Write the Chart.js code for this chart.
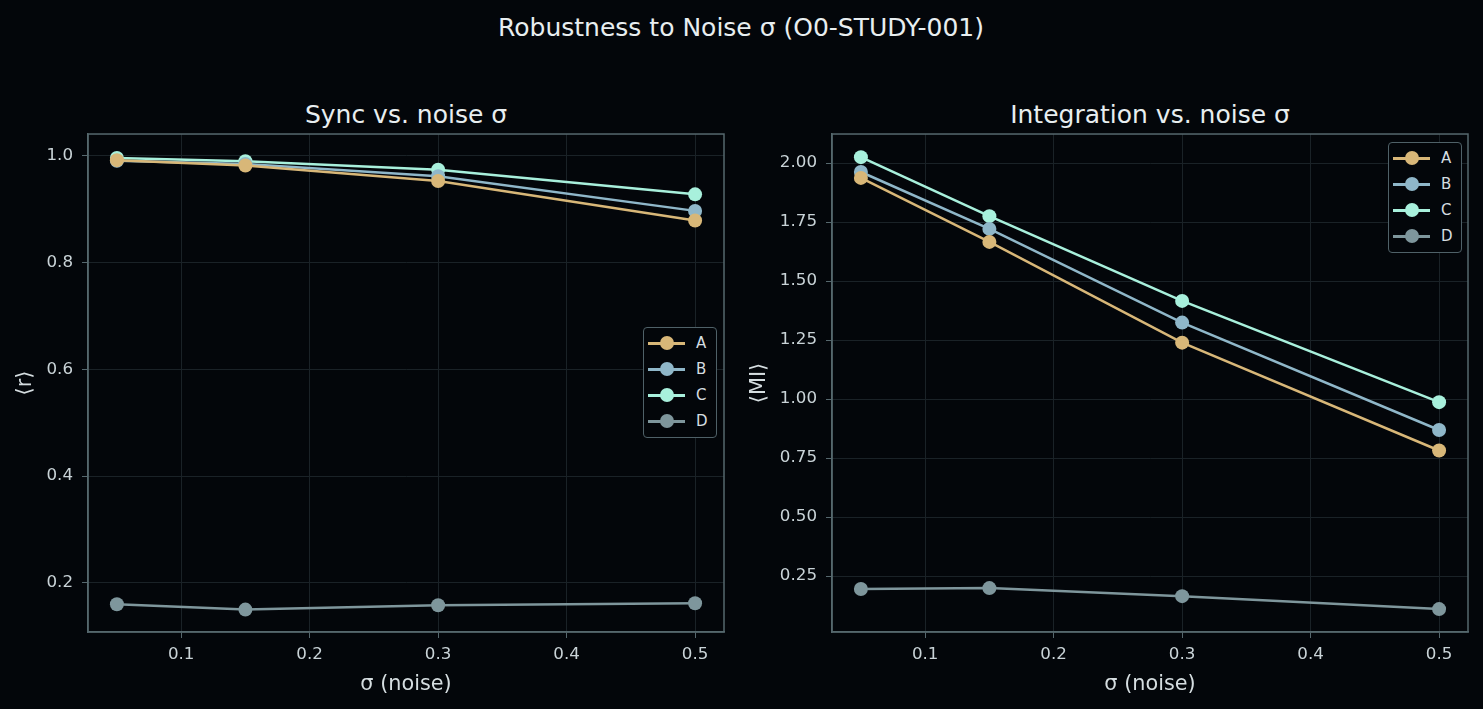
<!DOCTYPE html>
<html>
<head>
<meta charset="utf-8">
<script src="https://cdn.jsdelivr.net/npm/chart.js@4/dist/chart.umd.min.js"></script>
<style>
  html, body { margin: 0; padding: 0; background: #03060a; }
  body { width: 1483px; height: 709px; position: relative; overflow: hidden; font-family: "DejaVu Sans", sans-serif; }
  .box { position: absolute; }
  .title { position: absolute; color: #e8eef0; white-space: nowrap; transform: translate(-50%, -50%); }
  .legend { position: absolute; border: 1.5px solid #4f6168; border-radius: 4px; background: #03060a; padding: 2px 8px 3px 4px; }
  .legend .row { display: flex; align-items: center; height: 26px; color: #d5dde0; font-size: 15px; }
  .legend .mark { position: relative; width: 37px; height: 14px; margin-right: 11px; }
  .legend .mark .ln { position: absolute; left: 0; right: 0; top: 6px; height: 2.5px; }
  .legend .mark .dot { position: absolute; left: 11.5px; top: 0; width: 14px; height: 14px; border-radius: 50%; }
</style>
</head>
<body>
<div class="title" style="left:741px; top:27px; font-size:25px;">Robustness to Noise σ (O0-STUDY-001)</div>
<div class="title" style="left:406px; top:114px; font-size:25px;">Sync vs. noise σ</div>
<div class="title" style="left:1150px; top:114px; font-size:25px;">Integration vs. noise σ</div>

<div class="box" style="left:0; top:115px; width:740px; height:594px;"><canvas id="syncChart"></canvas></div>
<div class="box" style="left:745px; top:115px; width:738px; height:594px;"><canvas id="miChart"></canvas></div>

<div class="legend" id="syncLegend" style="left:643px; top:327px;"></div>
<div class="legend" id="miLegend" style="left:1388px; top:142px;"></div>

<script>
const sigmas = [0.05, 0.15, 0.3, 0.5];
const seriesNames = ["A", "B", "C", "D"];
const seriesColors = ["#d8b778", "#8fb7c9", "#a8f0dc", "#7e969c"];

// mean order parameter <r>
const syncA = [0.992, 0.982, 0.953, 0.879];
const syncB = [0.991, 0.985, 0.962, 0.897];
const syncC = [0.996, 0.990, 0.974, 0.928];
const syncD = [0.160, 0.150, 0.158, 0.162];

// mean mutual information <MI>
const miA = [1.937, 1.666, 1.239, 0.782];
const miB = [1.962, 1.721, 1.324, 0.869];
const miC = [2.025, 1.775, 1.416, 0.987];
const miD = [0.195, 0.199, 0.165, 0.110];

const xTicks = [0.1, 0.2, 0.3, 0.4, 0.5];
const syncTicks = [0.2, 0.4, 0.6, 0.8, 1.0];
const miTicks = [0.25, 0.5, 0.75, 1.0, 1.25, 1.5, 1.75, 2.0];

const gridColor = "#1a2227";
const spineColor = "#56686e";
const tickText = "#c9d3d7";

// draw the full frame around the plot area
const framePlugin = {
    id: "frame",
    afterDraw(chart) {
        const a = chart.chartArea;
        const c = chart.ctx;
        c.save();
        c.strokeStyle = spineColor;
        c.lineWidth = 1.5;
        c.strokeRect(a.left, a.top, a.right - a.left, a.bottom - a.top);
        c.restore();
    }
};

function makeDatasets(lists) {
    return lists.map((vals, i) => ({
        label: seriesNames[i],
        data: sigmas.map((s, j) => ({ x: s, y: vals[j] })),
        borderColor: seriesColors[i],
        backgroundColor: seriesColors[i],
        pointBackgroundColor: seriesColors[i],
        pointBorderWidth: 0,
        pointRadius: 7,
        borderWidth: 2.5,
        tension: 0,
    }));
}

function makeChart(id, lists, yMin, yMax, yTicks, decimals, yTitle, yWidth, yTitlePad, padRight) {
    const ctx = document.getElementById(id).getContext("2d");
    return new Chart(ctx, {
        type: "line",
        data: { datasets: makeDatasets(lists) },
        options: {
            responsive: true,
            maintainAspectRatio: false,
            animation: false,
            layout: { padding: { top: 13, right: padRight, bottom: 0, left: 0 } },
            plugins: { legend: { display: false }, tooltip: { enabled: false } },
            scales: {
                x: {
                    type: "linear",
                    min: 0.0275,
                    max: 0.5225,
                    afterBuildTicks: (s) => { s.ticks = xTicks.map(v => ({ value: v })); },
                    afterFit: (s) => { s.height = 77; },
                    grid: { color: gridColor, tickColor: spineColor, tickLength: 6, lineWidth: 1 },
                    border: { color: spineColor, width: 1.5 },
                    ticks: {
                        color: tickText, font: { family: "DejaVu Sans", size: 16.7 }, padding: 7,
                        maxRotation: 0,
                        callback: (v) => Number(v).toFixed(1)
                    },
                    title: {
                        display: true, text: "σ (noise)", color: "#d5dde0",
                        font: { family: "DejaVu Sans", size: 20.8 }, padding: { top: 0, bottom: 12 }
                    }
                },
                y: {
                    type: "linear",
                    min: yMin,
                    max: yMax,
                    afterBuildTicks: (s) => { s.ticks = yTicks.map(v => ({ value: v })); },
                    afterFit: (s) => { s.width = yWidth; },
                    grid: { color: gridColor, tickColor: spineColor, tickLength: 6, lineWidth: 1 },
                    border: { color: spineColor, width: 1.5 },
                    ticks: {
                        color: tickText, font: { family: "DejaVu Sans", size: 16.7 }, padding: 9,
                        callback: (v) => Number(v).toFixed(decimals)
                    },
                    title: {
                        display: true, text: yTitle, color: "#d5dde0",
                        font: { family: "DejaVu Sans", size: 20.8 }, padding: { top: yTitlePad, bottom: 0 }
                    }
                }
            }
        },
        plugins: [framePlugin]
    });
}

function buildLegend(id) {
    const el = document.getElementById(id);
    seriesNames.forEach((name, i) => {
        const row = document.createElement("div");
        row.className = "row";
        row.innerHTML = `<span class="mark"><span class="ln" style="background:${seriesColors[i]}"></span>` +
            `<span class="dot" style="background:${seriesColors[i]}"></span></span><span>${name}</span>`;
        el.appendChild(row);
    });
}

makeChart("syncChart", [syncA, syncB, syncC, syncD], 0.108, 1.041, syncTicks, 1, "⟨r⟩", 88, 13, 16);
makeChart("miChart", [miA, miB, miC, miD], 0.013, 2.123, miTicks, 2, "⟨MI⟩", 87, 2, 15);
buildLegend("syncLegend");
buildLegend("miLegend");
</script>
</body>
</html>
